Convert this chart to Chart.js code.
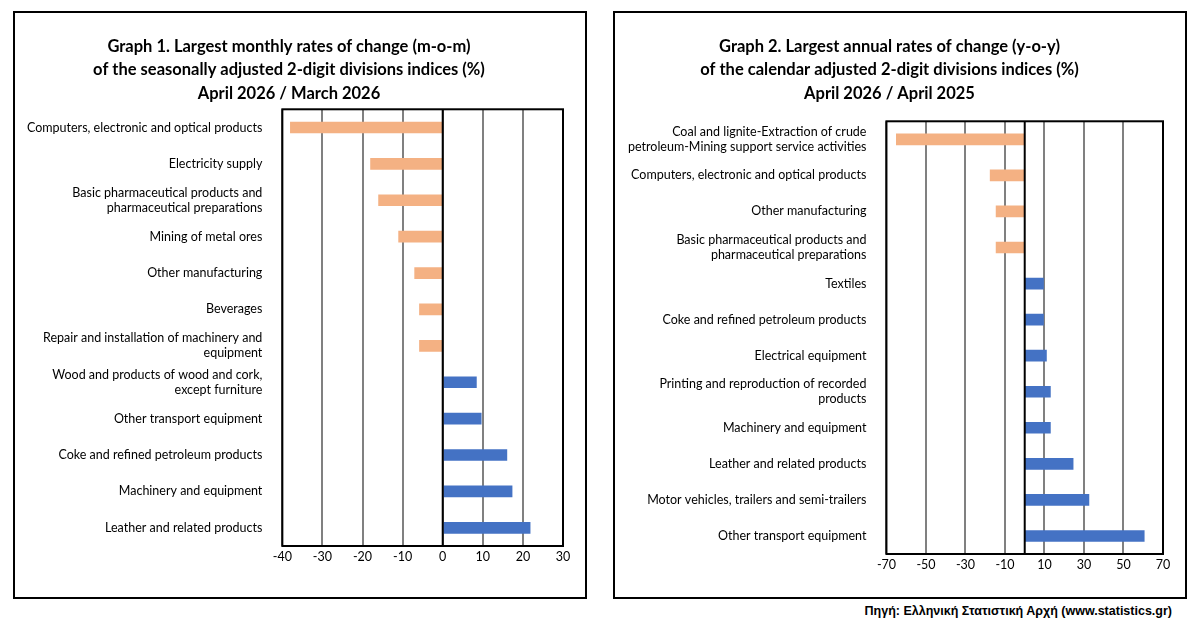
<!DOCTYPE html>
<html><head><meta charset="utf-8">
<script src="https://cdn.jsdelivr.net/npm/chart.js@4"></script>
<style>
body{margin:0;background:#fff;width:1200px;height:631px;position:relative;font-family:Lato,sans-serif;}
.box{position:absolute;border:2px solid #000;box-sizing:border-box;}
#b1{left:13px;top:11px;width:574px;height:588px;}
#b2{left:613px;top:11px;width:574px;height:588px;}
.box canvas{position:absolute;left:0;top:0;}
#src{position:absolute;right:28px;top:604px;font:bold 12.5px "Liberation Sans",Arial,sans-serif;}
</style></head><body>
<div class="box" id="b1"><canvas id="c1" width="570" height="584"></canvas></div>
<div class="box" id="b2"><canvas id="c2" width="570" height="584"></canvas></div>
<div id="src">Πηγή: Ελληνική Στατιστική Αρχή (www.statistics.gr)</div>
<script>
const cats1=["Computers, electronic and optical products","Electricity supply",["Basic pharmaceutical products and","pharmaceutical preparations"],"Mining of metal ores","Other manufacturing","Beverages",["Repair and installation of machinery and","equipment"],["Wood and products of wood and cork,","except furniture"],"Other transport equipment","Coke and refined petroleum products","Machinery and equipment","Leather and related products"];
const vals1=[-38,-18,-16,-11,-7,-5.8,-5.8,8.4,9.6,16,17.3,21.8];
const ticks1={min:-40,max:30,step:10};
const cats2=[["Coal and lignite-Extraction of crude","petroleum-Mining support service activities"],"Computers, electronic and optical products","Other manufacturing",["Basic pharmaceutical products and","pharmaceutical preparations"],"Textiles","Coke and refined petroleum products","Electrical equipment",["Printing and reproduction of recorded","products"],"Machinery and equipment","Leather and related products","Motor vehicles, trailers and semi-trailers","Other transport equipment"];
const vals2=[-65,-17.5,-14.5,-14.5,9.5,9.5,11,13,13,24.5,32.5,60.5];
const ticks2={min:-70,max:70,step:20};
const titles1=["Graph 1. Largest monthly rates of change (m-o-m)","of the seasonally adjusted 2-digit divisions indices (%)","April 2026 / March 2026"];
const titles2=["Graph 2. Largest annual rates of change (y-o-y)","of the calendar adjusted 2-digit divisions indices (%)","April 2026 / April 2025"];
const frame={id:'frame',afterDatasetsDraw(ch){const a=ch.chartArea,c=ch.ctx,x=ch.scales.x.getPixelForValue(0);c.save();c.strokeStyle='#000';c.lineWidth=2;c.strokeRect(a.left,a.top,a.right-a.left,a.bottom-a.top);c.beginPath();c.moveTo(x,a.top);c.lineTo(x,a.bottom);c.stroke();c.restore();}};
function make(id,cats,vals,t,titles,pad,tb){
new Chart(document.getElementById(id),{type:'bar',data:{labels:cats,datasets:[{data:vals,backgroundColor:vals.map(v=>v<0?'#F4B183':'#4472C4'),barThickness:11}]},
options:{indexAxis:'y',responsive:false,animation:false,layout:{padding:pad},
plugins:{legend:{display:false},tooltip:{enabled:false},title:{display:true,text:titles,color:'#000',font:{family:'Lato',size:16.5,weight:'bold',lineHeight:1.42},padding:{top:0,bottom:tb}}},
scales:{x:{min:t.min,max:t.max,ticks:{stepSize:t.step,color:'#000',font:{family:'Lato',size:12.5}},grid:{color:'#808080',lineWidth:2,drawTicks:false},border:{display:false}},
y:{ticks:{color:'#000',font:{family:'Lato',size:12.5},padding:12,autoSkip:false},grid:{display:false},border:{display:false}}}},plugins:[frame]});
}
make('c1',cats1,vals1,ticks1,titles1,{top:22,left:0,right:22,bottom:30},4);
make('c2',cats2,vals2,ticks2,titles2,{top:22,left:1,right:22,bottom:22},16);
</script></body></html>
